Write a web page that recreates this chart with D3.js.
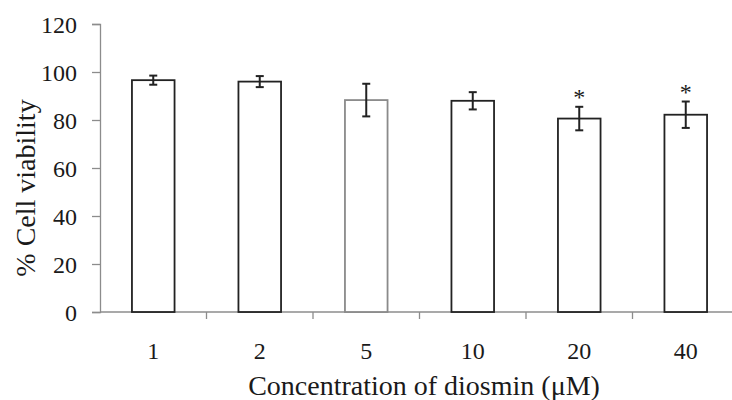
<!DOCTYPE html>
<html>
<head>
<meta charset="utf-8">
<script src="https://cdn.jsdelivr.net/npm/d3@7"></script>
<style>
  html, body { margin: 0; padding: 0; background: #fff; }
  svg { display: block; }
  text { font-family: "Liberation Serif", "Times New Roman", serif; fill: #1a1a1a; }
</style>
</head>
<body>
<svg id="chart" width="732" height="400"></svg>
<script>
// Cell viability after diosmin treatment (mean ± SD)
const concentrations = ["1", "2", "5", "10", "20", "40"];
const viability = [96.6, 96.0, 88.3, 88.0, 80.6, 82.2];
const errors = [1.9, 2.3, 6.8, 3.6, 4.9, 5.5];
const significant = [false, false, false, false, true, true];
const yTicks = [0, 20, 40, 60, 80, 100, 120];

const serif = "Liberation Serif, Times New Roman, serif";
const svg = d3.select("#chart");
const margin = { left: 100, top: 24, bottom: 88 };
const plotRight = 739;           // the category axis runs on past the edge
const height = 400;

const x = d3.scaleBand()
  .domain(concentrations)
  .range([margin.left, plotRight])
  .padding(0);

const y = d3.scaleLinear()
  .domain([0, 120])
  .range([height - margin.bottom, margin.top]);

const barW = x.bandwidth() * 0.4;
const axisColor = "#8c8c8c";

// y axis
const yAxis = svg.append("g")
  .attr("transform", `translate(${margin.left},0)`)
  .call(d3.axisLeft(y).tickValues(yTicks).tickSize(8).tickPadding(15))
  .attr("font-family", serif);
yAxis.select(".domain").attr("stroke", axisColor).attr("stroke-width", 1.3);
yAxis.selectAll(".tick line").attr("stroke", axisColor).attr("stroke-width", 1.3);
yAxis.selectAll(".tick text")
  .attr("font-size", 24)
  .attr("font-family", serif)
  .attr("fill", "#1a1a1a")
  .attr("dy", "0.34em");

// x axis baseline
svg.append("line")
  .attr("x1", margin.left).attr("x2", plotRight)
  .attr("y1", y(0)).attr("y2", y(0))
  .attr("stroke", axisColor).attr("stroke-width", 1.3);

// tick marks sit on the category boundaries
svg.selectAll(".xtick")
  .data(concentrations.slice(1))
  .join("line")
  .attr("class", "xtick")
  .attr("x1", d => x(d)).attr("x2", d => x(d))
  .attr("y1", y(0)).attr("y2", y(0) + 7)
  .attr("stroke", axisColor).attr("stroke-width", 1.3);

// category labels
svg.selectAll(".xlabel")
  .data(concentrations)
  .join("text")
  .attr("class", "xlabel")
  .attr("x", d => x(d) + x.bandwidth() / 2)
  .attr("y", y(0) + 47)
  .attr("text-anchor", "middle")
  .attr("font-family", serif)
  .attr("font-size", 24)
  .text(d => d);

// bars
const rows = concentrations.map((c, i) => ({ c, v: viability[i], e: errors[i], sig: significant[i], i }));

svg.selectAll(".bar")
  .data(rows)
  .join("rect")
  .attr("class", "bar")
  .attr("x", d => x(d.c) + (x.bandwidth() - barW) / 2)
  .attr("y", d => y(d.v))
  .attr("width", barW)
  .attr("height", d => y(0) - y(d.v))
  .attr("fill", "#fff")
  .attr("stroke", d => d.c === "5" ? "#8a8a8a" : "#222")
  .attr("stroke-width", 1.8);

// error bars
const eb = svg.selectAll(".err")
  .data(rows)
  .join("g")
  .attr("class", "err")
  .attr("stroke", "#222")
  .attr("stroke-width", 2);
eb.append("line")
  .attr("x1", d => x(d.c) + x.bandwidth() / 2)
  .attr("x2", d => x(d.c) + x.bandwidth() / 2)
  .attr("y1", d => y(d.v + d.e))
  .attr("y2", d => y(d.v - d.e));
eb.append("line")
  .attr("x1", d => x(d.c) + x.bandwidth() / 2 - 4)
  .attr("x2", d => x(d.c) + x.bandwidth() / 2 + 4)
  .attr("y1", d => y(d.v + d.e))
  .attr("y2", d => y(d.v + d.e));
eb.append("line")
  .attr("x1", d => x(d.c) + x.bandwidth() / 2 - 4)
  .attr("x2", d => x(d.c) + x.bandwidth() / 2 + 4)
  .attr("y1", d => y(d.v - d.e))
  .attr("y2", d => y(d.v - d.e));

// significance markers
svg.selectAll(".star")
  .data(rows.filter(d => d.sig))
  .join("text")
  .attr("class", "star")
  .attr("x", d => x(d.c) + x.bandwidth() / 2)
  .attr("y", d => y(d.v + d.e) - 2)
  .attr("text-anchor", "middle")
  .attr("font-family", serif)
  .attr("font-size", 24)
  .text("*");

// axis titles
svg.append("text")
  .attr("transform", `translate(35,${(y(0) + y(120)) / 2 + 20}) rotate(-90)`)
  .attr("text-anchor", "middle")
  .attr("font-family", serif)
  .attr("font-size", 28)
  .text("% Cell viability");

svg.append("text")
  .attr("x", 424)
  .attr("y", 395)
  .attr("text-anchor", "middle")
  .attr("font-family", serif)
  .attr("font-size", 28)
  .text("Concentration of diosmin (\u03bcM)");
</script>
</body>
</html>
